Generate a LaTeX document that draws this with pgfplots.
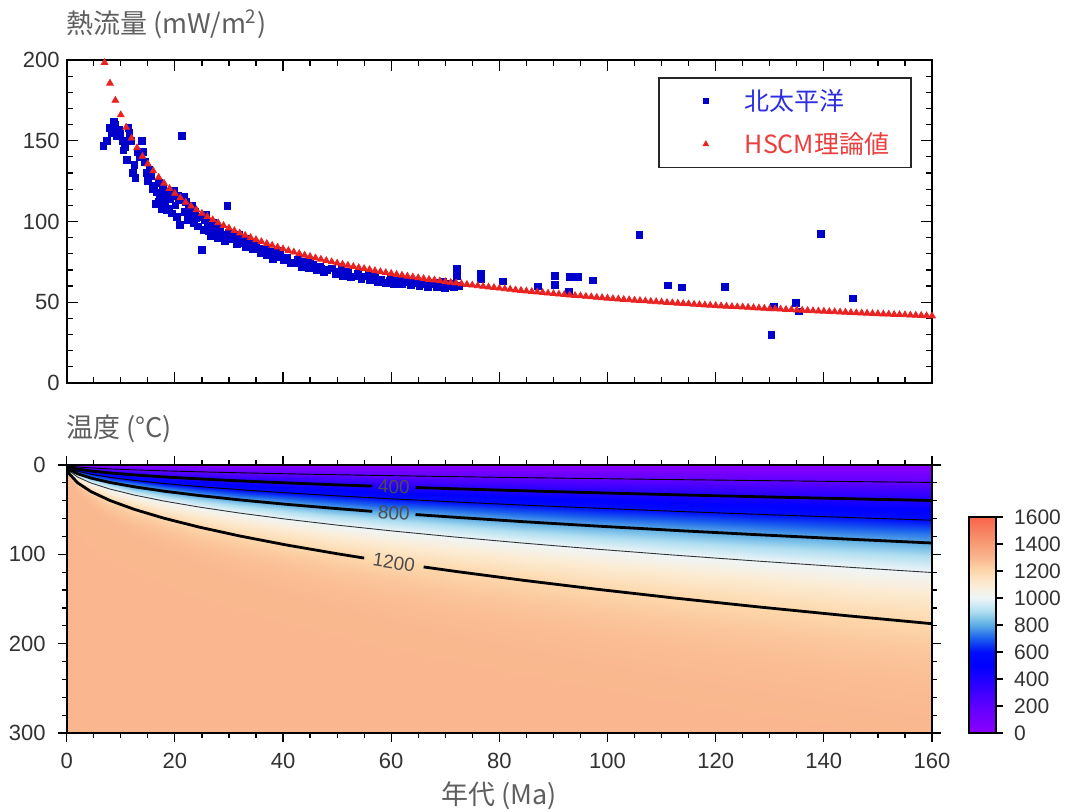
\documentclass[border=0pt]{standalone}
\usepackage{fontspec}
\setmainfont{Liberation Sans}
\newfontfamily\cjk{Noto Sans CJK JP}
\usepackage{pgfplots}
\pgfplotsset{compat=1.18}
\definecolor{ptblue}{RGB}{0,0,205}
\definecolor{ptred}{RGB}{234,34,34}
\definecolor{lgblue}{RGB}{45,45,225}
\definecolor{lgred}{RGB}{236,62,62}
\definecolor{tickgray}{RGB}{50,50,50}
\definecolor{labgray}{RGB}{95,95,95}
\pgfplotsset{
  colormap={tempmap}{
    rgb255(0pt)=(140,0,255)
    rgb255(200pt)=(95,0,255)
    rgb255(400pt)=(30,0,255)
    rgb255(500pt)=(0,0,255)
    rgb255(600pt)=(0,12,250)
    rgb255(700pt)=(25,95,238)
    rgb255(800pt)=(90,172,228)
    rgb255(900pt)=(175,222,240)
    rgb255(1000pt)=(238,245,248)
    rgb255(1100pt)=(252,236,212)
    rgb255(1200pt)=(253,216,172)
    rgb255(1300pt)=(250,182,142)
    rgb255(1400pt)=(248,156,118)
    rgb255(1500pt)=(248,128,96)
    rgb255(1600pt)=(250,100,75)
  }
}
\begin{document}
\begin{tikzpicture}
\useasboundingbox (0,0) rectangle (534.5pt,406pt);
% ---------------- top panel ----------------
\begin{axis}[
  at={(33.35pt,214.5pt)}, anchor=south west, scale only axis,
  width=432.65pt, height=161.5pt,
  xmin=0, xmax=160, ymin=0, ymax=200,
  xtick={0,20,...,160}, xticklabels={},
  ytick={0,50,...,200},
  minor x tick num=3, minor y tick num=4,
  tick align=inside, xtick pos=both, ytick pos=both,
  major tick length=5.5pt, minor tick length=3pt,
  axis line style={line width=0.9pt},
  every tick/.style={black, line width=0.6pt},
  tick label style={font=\fontsize{11}{13}\selectfont, text=tickgray},
  /pgf/number format/assume math mode=true,
  clip=false,
  legend style={at={(1,1)}, anchor=north east, xshift=-10pt, yshift=-8.5pt,
    draw=black!85, line width=0.8pt, fill=white,
    font=\cjk\fontsize{12.5}{15}\selectfont,
    nodes={inner sep=0pt, text height=10pt, text depth=1pt},
    inner xsep=11pt, inner ysep=6.2pt, row sep=10.5pt,
    /tikz/every odd column/.append style={column sep=13.5pt}},
  legend cell align=left,
  legend image code/.code={\path[draw=none,fill=none] (-12.5pt,-3pt) rectangle (6pt,3pt); \draw[#1, mark size=1.2pt] plot coordinates {(0pt,0pt)};},
]
\addplot[only marks, mark=square*, mark size=1.7pt, color=ptblue] coordinates {
(6.8,147) (7.5,150) (8.0,158) (8.3,155) (8.8,162) (9.0,160) (9.3,153) (9.6,157) (9.9,154) (10.4,150)
(10.5,144) (10.8,146) (11.1,138) (11.4,158) (11.6,155) (11.8,150) (12.2,130) (12.5,135) (12.7,127) (13.1,143)
(13.5,140) (13.9,150) (14.2,143) (14.4,137) (14.8,130) (15.0,125) (15.3,132) (15.6,128) (16.0,120) (16.1,122)
(16.4,111) (16.7,118) (17.0,124) (17.3,115) (17.6,108) (17.8,120) (18.2,112) (18.5,107) (18.8,118) (19.1,114)
(19.5,105) (19.8,119) (20.1,110) (20.4,103) (20.8,113) (21.3,153) (21.6,115) (21.9,106) (22.3,101) (22.6,109)
(23.0,104) (23.5,99) (23.8,106) (24.2,97) (24.6,103) (25.0,82.5) (25.3,95) (25.6,101) (26.0,97) (26.6,91)
(27.0,99) (27.4,94) (27.9,90) (28.3,96) (28.8,92) (29.3,88) (29.7,109.7) (29.9,93) (30.4,89) (31.0,91)
(31.5,86) (32.1,89) (32.7,86.6) (33.2,84) (33.8,87) (34.4,83) (35.0,85) (35.8,80.4) (36.3,83) (37.0,79)
(37.6,81) (38.2,77) (38.9,78.3) (39.5,80) (40.1,76) (40.8,77.5) (41.5,74) (42.0,74.3) (42.7,76) (43.4,72)
(44.1,74) (44.8,71) (45.5,73) (46.2,70) (46.9,72) (47.6,69) (48.2,70.1) (49.0,71) (49.7,67.5) (50.4,69)
(51.1,66) (51.8,68) (52.5,65.5) (53.1,66) (53.8,67.5) (54.5,64.5) (55.2,66) (56.0,63.5) (56.7,65) (57.5,62.5)
(58.2,64) (59.0,62) (59.8,63.5) (60.5,61.5) (61.3,63) (62.0,61) (62.8,62.5) (63.6,60.5) (64.4,62) (65.2,60)
(66.0,61.5) (66.8,59.5) (67.6,61) (68.4,59.5) (69.2,60.5) (70.0,59) (70.8,60) (71.6,59.5) (72.1,70.5) (72.1,66)
(72.5,60) (76.6,67.6) (76.6,64.3) (80.7,62.9) (87.1,59.8) (90.3,66.4) (90.3,60.8) (92.8,56.7) (93.0,65.6) (94.5,65.6)
(97.3,63.5) (105.9,91.8) (111.2,60.4) (113.7,59.2) (121.7,59.4) (130.3,29.9) (130.7,47) (134.8,49.5) (135.4,44.3) (139.4,92.2)
(145.3,52.4) (21.0,98) (22.0,112) (24.0,102) (26.3,94) (28.0,93) (30.0,90) (19.0,108) (17.0,112) (18.0,117)
(23.2,110) (27.2,97) (31.8,92) (34.8,86) (36.8,83) (43.9,75) (47.0,70.5) (52.0,69) (57.0,66) (62.5,64)
(65.5,62.5) (68.0,62) (71.0,61.5) (20.5,116) (25.8,104) (33.5,89) (39.0,82) (45.0,75.5) (50.8,72) (55.8,68)
(60.0,65) (64.0,63.5) (69.5,62.5)
};
\addlegendentry{\textcolor{lgblue}{北太平洋}}
\addplot[only marks, mark=triangle*, mark size=1.9pt, color=ptred] coordinates {
(7,198.4) (8,185.6) (9,175.0) (10,166.0) (11,158.3) (12,151.6) (13,145.6) (14,140.3) (15,135.6) (16,131.3)
(17,127.3) (18,123.7) (19,120.4) (20,117.4) (21,114.6) (22,111.9) (23,109.5) (24,107.2) (25,105.0) (26,103.0)
(27,101.0) (28,99.2) (29,97.5) (30,95.9) (31,94.3) (32,92.8) (33,91.4) (34,90.0) (35,88.7) (36,87.5)
(37,86.3) (38,85.2) (39,84.1) (40,83.0) (41,82.0) (42,81.0) (43,80.1) (44,79.1) (45,78.3) (46,77.4)
(47,76.6) (48,75.8) (49,75.0) (50,74.2) (51,73.5) (52,72.8) (53,72.1) (54,71.4) (55,70.8) (56,70.2)
(57,69.5) (58,68.9) (59,68.3) (60,67.8) (61,67.2) (62,66.7) (63,66.1) (64,65.6) (65,65.1) (66,64.6)
(67,64.1) (68,63.7) (69,63.2) (70,62.7) (71,62.3) (72,61.9) (73,61.4) (74,61.0) (75,60.6) (76,60.2)
(77,59.8) (78,59.4) (79,59.1) (80,58.7) (81,58.3) (82,58.0) (83,57.6) (84,57.3) (85,56.9) (86,56.6)
(87,56.3) (88,56.0) (89,55.6) (90,55.3) (91,55.0) (92,54.7) (93,54.4) (94,54.1) (95,53.9) (96,53.6)
(97,53.3) (98,53.0) (99,52.8) (100,52.5) (101,52.2) (102,52.0) (103,51.7) (104,51.5) (105,51.2) (106,51.0)
(107,50.8) (108,50.5) (109,50.3) (110,50.1) (111,49.8) (112,49.6) (113,49.4) (114,49.2) (115,49.0) (116,48.7)
(117,48.5) (118,48.3) (119,48.1) (120,47.9) (121,47.7) (122,47.5) (123,47.3) (124,47.1) (125,47.0) (126,46.8)
(127,46.6) (128,46.4) (129,46.2) (130,46.0) (131,45.9) (132,45.7) (133,45.5) (134,45.4) (135,45.2) (136,45.0)
(137,44.9) (138,44.7) (139,44.5) (140,44.4) (141,44.2) (142,44.1) (143,43.9) (144,43.8) (145,43.6) (146,43.4)
(147,43.3) (148,43.2) (149,43.0) (150,42.9) (151,42.7) (152,42.6) (153,42.4) (154,42.3) (155,42.2) (156,42.0)
(157,41.9) (158,41.8) (159,41.6) (160,41.5)
};
\addlegendentry{\textcolor{lgred}{HSCM理論値}}
\end{axis}
% ---------------- bottom panel ----------------
\begin{axis}[
  at={(33.35pt,39.5pt)}, anchor=south west, scale only axis,
  width=432.65pt, height=134pt,
  xmin=0, xmax=160, ymin=0, ymax=300, y dir=reverse,
  xtick={0,20,...,160}, ytick={0,100,200,300},
  minor x tick num=3, minor y tick num=4,
  tick align=outside, xtick pos=both, ytick pos=both,
  major tick length=4.5pt, minor tick length=2.5pt,
  axis line style={line width=0.9pt},
  axis on top,
  every tick/.style={black, line width=0.6pt},
  tick label style={font=\fontsize{11}{13}\selectfont, text=tickgray},
  xticklabel style={yshift=-2pt},
  yticklabel style={xshift=-2.5pt},
  /pgf/number format/assume math mode=true,
  colormap name=tempmap,
  point meta min=0, point meta max=1600,
  colorbar,
  colorbar style={
    at={(parent axis.south east)}, anchor=south west, xshift=10pt,
    scale only axis, width=13.5pt, height=108pt,
    ytick={0,200,...,1600}, ytick pos=right, yticklabel pos=right,
    tick align=outside, major tick length=3.5pt,
    axis line style={line width=0.9pt},
    every tick/.style={black, line width=0.6pt},
    yticklabel style={xshift=2pt, font=\fontsize{10.5}{12}\selectfont, text=tickgray},
    /pgf/number format/assume math mode=true,
    /pgf/number format/1000 sep={},
  },
]
\addplot[surf, shader=interp, mesh/cols=19, point meta=explicit] coordinates {
(0,0)[0] (0.5,0)[0] (2,0)[0] (4.5,0)[0] (8,0)[0] (12.5,0)[0] (18,0)[0] (24.5,0)[0] (32,0)[0] (40.5,0)[0] (50,0)[0] (60.5,0)[0] (72,0)[0] (84.5,0)[0] (98,0)[0] (112.5,0)[0] (128,0)[0] (144.5,0)[0] (162,0)[0]

(0,0)[100] (0.5,0.54)[100] (2,1.08)[100] (4.5,1.63)[100] (8,2.17)[100] (12.5,2.71)[100] (18,3.25)[100] (24.5,3.80)[100] (32,4.34)[100] (40.5,4.88)[100] (50,5.42)[100] (60.5,5.96)[100] (72,6.51)[100] (84.5,7.05)[100] (98,7.59)[100] (112.5,8.13)[100] (128,8.68)[100] (144.5,9.22)[100] (162,9.76)[100]

(0,0)[200] (0.5,1.09)[200] (2,2.18)[200] (4.5,3.27)[200] (8,4.36)[200] (12.5,5.45)[200] (18,6.54)[200] (24.5,7.63)[200] (32,8.72)[200] (40.5,9.81)[200] (50,10.90)[200] (60.5,11.98)[200] (72,13.07)[200] (84.5,14.16)[200] (98,15.25)[200] (112.5,16.34)[200] (128,17.43)[200] (144.5,18.52)[200] (162,19.61)[200]

(0,0)[300] (0.5,1.65)[300] (2,3.30)[300] (4.5,4.94)[300] (8,6.59)[300] (12.5,8.24)[300] (18,9.89)[300] (24.5,11.53)[300] (32,13.18)[300] (40.5,14.83)[300] (50,16.48)[300] (60.5,18.13)[300] (72,19.77)[300] (84.5,21.42)[300] (98,23.07)[300] (112.5,24.72)[300] (128,26.36)[300] (144.5,28.01)[300] (162,29.66)[300]

(0,0)[400] (0.5,2.22)[400] (2,4.44)[400] (4.5,6.67)[400] (8,8.89)[400] (12.5,11.11)[400] (18,13.33)[400] (24.5,15.55)[400] (32,17.78)[400] (40.5,20.00)[400] (50,22.22)[400] (60.5,24.44)[400] (72,26.66)[400] (84.5,28.88)[400] (98,31.11)[400] (112.5,33.33)[400] (128,35.55)[400] (144.5,37.77)[400] (162,39.99)[400]

(0,0)[500] (0.5,2.82)[500] (2,5.64)[500] (4.5,8.46)[500] (8,11.29)[500] (12.5,14.11)[500] (18,16.93)[500] (24.5,19.75)[500] (32,22.57)[500] (40.5,25.39)[500] (50,28.21)[500] (60.5,31.04)[500] (72,33.86)[500] (84.5,36.68)[500] (98,39.50)[500] (112.5,42.32)[500] (128,45.14)[500] (144.5,47.96)[500] (162,50.79)[500]

(0,0)[600] (0.5,3.45)[600] (2,6.91)[600] (4.5,10.36)[600] (8,13.82)[600] (12.5,17.27)[600] (18,20.73)[600] (24.5,24.18)[600] (32,27.63)[600] (40.5,31.09)[600] (50,34.54)[600] (60.5,38.00)[600] (72,41.45)[600] (84.5,44.91)[600] (98,48.36)[600] (112.5,51.81)[600] (128,55.27)[600] (144.5,58.72)[600] (162,62.18)[600]

(0,0)[700] (0.5,4.13)[700] (2,8.27)[700] (4.5,12.40)[700] (8,16.54)[700] (12.5,20.67)[700] (18,24.81)[700] (24.5,28.94)[700] (32,33.08)[700] (40.5,37.21)[700] (50,41.35)[700] (60.5,45.48)[700] (72,49.62)[700] (84.5,53.75)[700] (98,57.89)[700] (112.5,62.02)[700] (128,66.16)[700] (144.5,70.29)[700] (162,74.43)[700]

(0,0)[800] (0.5,4.88)[800] (2,9.76)[800] (4.5,14.65)[800] (8,19.53)[800] (12.5,24.41)[800] (18,29.29)[800] (24.5,34.17)[800] (32,39.06)[800] (40.5,43.94)[800] (50,48.82)[800] (60.5,53.70)[800] (72,58.59)[800] (84.5,63.47)[800] (98,68.35)[800] (112.5,73.23)[800] (128,78.11)[800] (144.5,83.00)[800] (162,87.88)[800]

(0,0)[900] (0.5,5.73)[900] (2,11.46)[900] (4.5,17.18)[900] (8,22.91)[900] (12.5,28.64)[900] (18,34.37)[900] (24.5,40.09)[900] (32,45.82)[900] (40.5,51.55)[900] (50,57.28)[900] (60.5,63.01)[900] (72,68.73)[900] (84.5,74.46)[900] (98,80.19)[900] (112.5,85.92)[900] (128,91.64)[900] (144.5,97.37)[900] (162,103.10)[900]

(0,0)[1000] (0.5,6.73)[1000] (2,13.46)[1000] (4.5,20.19)[1000] (8,26.92)[1000] (12.5,33.65)[1000] (18,40.38)[1000] (24.5,47.10)[1000] (32,53.83)[1000] (40.5,60.56)[1000] (50,67.29)[1000] (60.5,74.02)[1000] (72,80.75)[1000] (84.5,87.48)[1000] (98,94.21)[1000] (112.5,100.94)[1000] (128,107.67)[1000] (144.5,114.40)[1000] (162,121.13)[1000]

(0,0)[1100] (0.5,8.01)[1100] (2,16.02)[1100] (4.5,24.02)[1100] (8,32.03)[1100] (12.5,40.04)[1100] (18,48.05)[1100] (24.5,56.05)[1100] (32,64.06)[1100] (40.5,72.07)[1100] (50,80.08)[1100] (60.5,88.08)[1100] (72,96.09)[1100] (84.5,104.10)[1100] (98,112.11)[1100] (112.5,120.12)[1100] (128,128.12)[1100] (144.5,136.13)[1100] (162,144.14)[1100]

(0,0)[1200] (0.5,9.93)[1200] (2,19.87)[1200] (4.5,29.80)[1200] (8,39.73)[1200] (12.5,49.66)[1200] (18,59.60)[1200] (24.5,69.53)[1200] (32,79.46)[1200] (40.5,89.39)[1200] (50,99.33)[1200] (60.5,109.26)[1200] (72,119.19)[1200] (84.5,129.12)[1200] (98,139.06)[1200] (112.5,148.99)[1200] (128,158.92)[1200] (144.5,168.85)[1200] (162,178.79)[1200]

(0,0)[1250] (0.5,11.62)[1250] (2,23.25)[1250] (4.5,34.87)[1250] (8,46.49)[1250] (12.5,58.12)[1250] (18,69.74)[1250] (24.5,81.36)[1250] (32,92.99)[1250] (40.5,104.61)[1250] (50,116.23)[1250] (60.5,127.86)[1250] (72,139.48)[1250] (84.5,151.10)[1250] (98,162.72)[1250] (112.5,174.35)[1250] (128,185.97)[1250] (144.5,197.59)[1250] (162,209.22)[1250]

(0,0)[1280] (0.5,13.60)[1280] (2,27.21)[1280] (4.5,40.81)[1280] (8,54.41)[1280] (12.5,68.02)[1280] (18,81.62)[1280] (24.5,95.22)[1280] (32,108.82)[1280] (40.5,122.43)[1280] (50,136.03)[1280] (60.5,149.63)[1280] (72,163.24)[1280] (84.5,176.84)[1280] (98,190.44)[1280] (112.5,204.05)[1280] (128,217.65)[1280] (144.5,231.25)[1280] (162,244.85)[1280]

(0,0)[1295] (0.5,16.24)[1295] (2,32.48)[1295] (4.5,48.72)[1295] (8,64.96)[1295] (12.5,81.20)[1295] (18,97.43)[1295] (24.5,113.67)[1295] (32,129.91)[1295] (40.5,146.15)[1295] (50,162.39)[1295] (60.5,178.63)[1295] (72,194.87)[1295] (84.5,211.11)[1295] (98,227.35)[1295] (112.5,243.59)[1295] (128,259.82)[1295] (144.5,276.06)[1295] (162,292.30)[1295]

(0,420)[1300] (0.5,420)[1300] (2,420)[1300] (4.5,420)[1300] (8,420)[1300] (12.5,420)[1300] (18,420)[1300] (24.5,420)[1300] (32,420)[1300] (40.5,420)[1300] (50,420)[1300] (60.5,420)[1300] (72,420)[1300] (84.5,420)[1300] (98,420)[1300] (112.5,420)[1300] (128,420)[1300] (144.5,420)[1300] (162,420)[1300]
};
% thin contours 200, 600, 1000
\addplot[black, line width=0.45pt] coordinates {(0,0) (0.5,1.09) (2,2.18) (4.5,3.27) (8,4.36) (12.5,5.45) (18,6.54) (24.5,7.63) (32,8.72) (40.5,9.81) (50,10.90) (60.5,11.98) (72,13.07) (84.5,14.16) (98,15.25) (112.5,16.34) (128,17.43) (144.5,18.52) (162,19.61)};
\addplot[black, line width=0.45pt] coordinates {(0,0) (0.5,3.45) (2,6.91) (4.5,10.36) (8,13.82) (12.5,17.27) (18,20.73) (24.5,24.18) (32,27.63) (40.5,31.09) (50,34.54) (60.5,38.00) (72,41.45) (84.5,44.91) (98,48.36) (112.5,51.81) (128,55.27) (144.5,58.72) (162,62.18)};
\addplot[black!80, line width=0.45pt] coordinates {(0,0) (0.5,6.73) (2,13.46) (4.5,20.19) (8,26.92) (12.5,33.65) (18,40.38) (24.5,47.10) (32,53.83) (40.5,60.56) (50,67.29) (60.5,74.02) (72,80.75) (84.5,87.48) (98,94.21) (112.5,100.94) (128,107.67) (144.5,114.40) (162,121.13)};
% thick contours 400, 800, 1200 (with label gaps)
\addplot[black, line width=1.4pt] coordinates {(0,0) (0.5,2.22) (2,4.44) (4.5,6.67) (8,8.89) (12.5,11.11) (18,13.33) (24.5,15.55) (32,17.78) (40.5,20.00) (50,22.22) (56.5,23.62)};
\addplot[black, line width=1.4pt] coordinates {(64.5,25.24) (72,26.66) (84.5,28.88) (98,31.11) (112.5,33.33) (128,35.55) (144.5,37.77) (162,39.99)};
\addplot[black, line width=1.4pt] coordinates {(0,0) (0.5,4.88) (2,9.76) (4.5,14.65) (8,19.53) (12.5,24.41) (18,29.29) (24.5,34.17) (32,39.06) (40.5,43.94) (50,48.82) (56.5,51.90)};
\addplot[black, line width=1.4pt] coordinates {(64.5,55.45) (72,58.59) (84.5,63.47) (98,68.35) (112.5,73.23) (128,78.11) (144.5,83.00) (162,87.88)};
\addplot[black, line width=1.4pt] coordinates {(0,0) (0.5,9.93) (2,19.87) (4.5,29.80) (8,39.73) (12.5,49.66) (18,59.60) (24.5,69.53) (32,79.46) (40.5,89.39) (50,99.33) (55,104.17)};
\addplot[black, line width=1.4pt] coordinates {(66,114.12) (72,119.19) (84.5,129.12) (98,139.06) (112.5,148.99) (128,158.92) (144.5,168.85) (162,178.79)};
\node[font=\fontsize{9.5}{11}\selectfont, text=black!70, rotate=-1.9, inner sep=0pt] at (axis cs:60.5,24.44) {400};
\node[font=\fontsize{9.5}{11}\selectfont, text=black!70, rotate=-4.2, inner sep=0pt] at (axis cs:60.5,53.70) {800};
\node[font=\fontsize{9.5}{11}\selectfont, text=black!70, rotate=-8.5, inner sep=0pt] at (axis cs:60.5,109.26) {1200};
\end{axis}
% ---------------- axis titles ----------------
\node[anchor=base west, text=labgray, font=\cjk\fontsize{13.5}{16}\selectfont, inner sep=0pt] at (33pt,389pt) {熱流量 (mW/m\textsuperscript{2})};
\node[anchor=base west, text=labgray, font=\cjk\fontsize{13.5}{16}\selectfont, inner sep=0pt] at (33pt,187pt) {温度 (°C)};
\node[anchor=base, text=labgray, font=\cjk\fontsize{13.5}{16}\selectfont, inner sep=0pt] at (249.7pt,3.5pt) {年代 (Ma)};
\end{tikzpicture}
\end{document}
